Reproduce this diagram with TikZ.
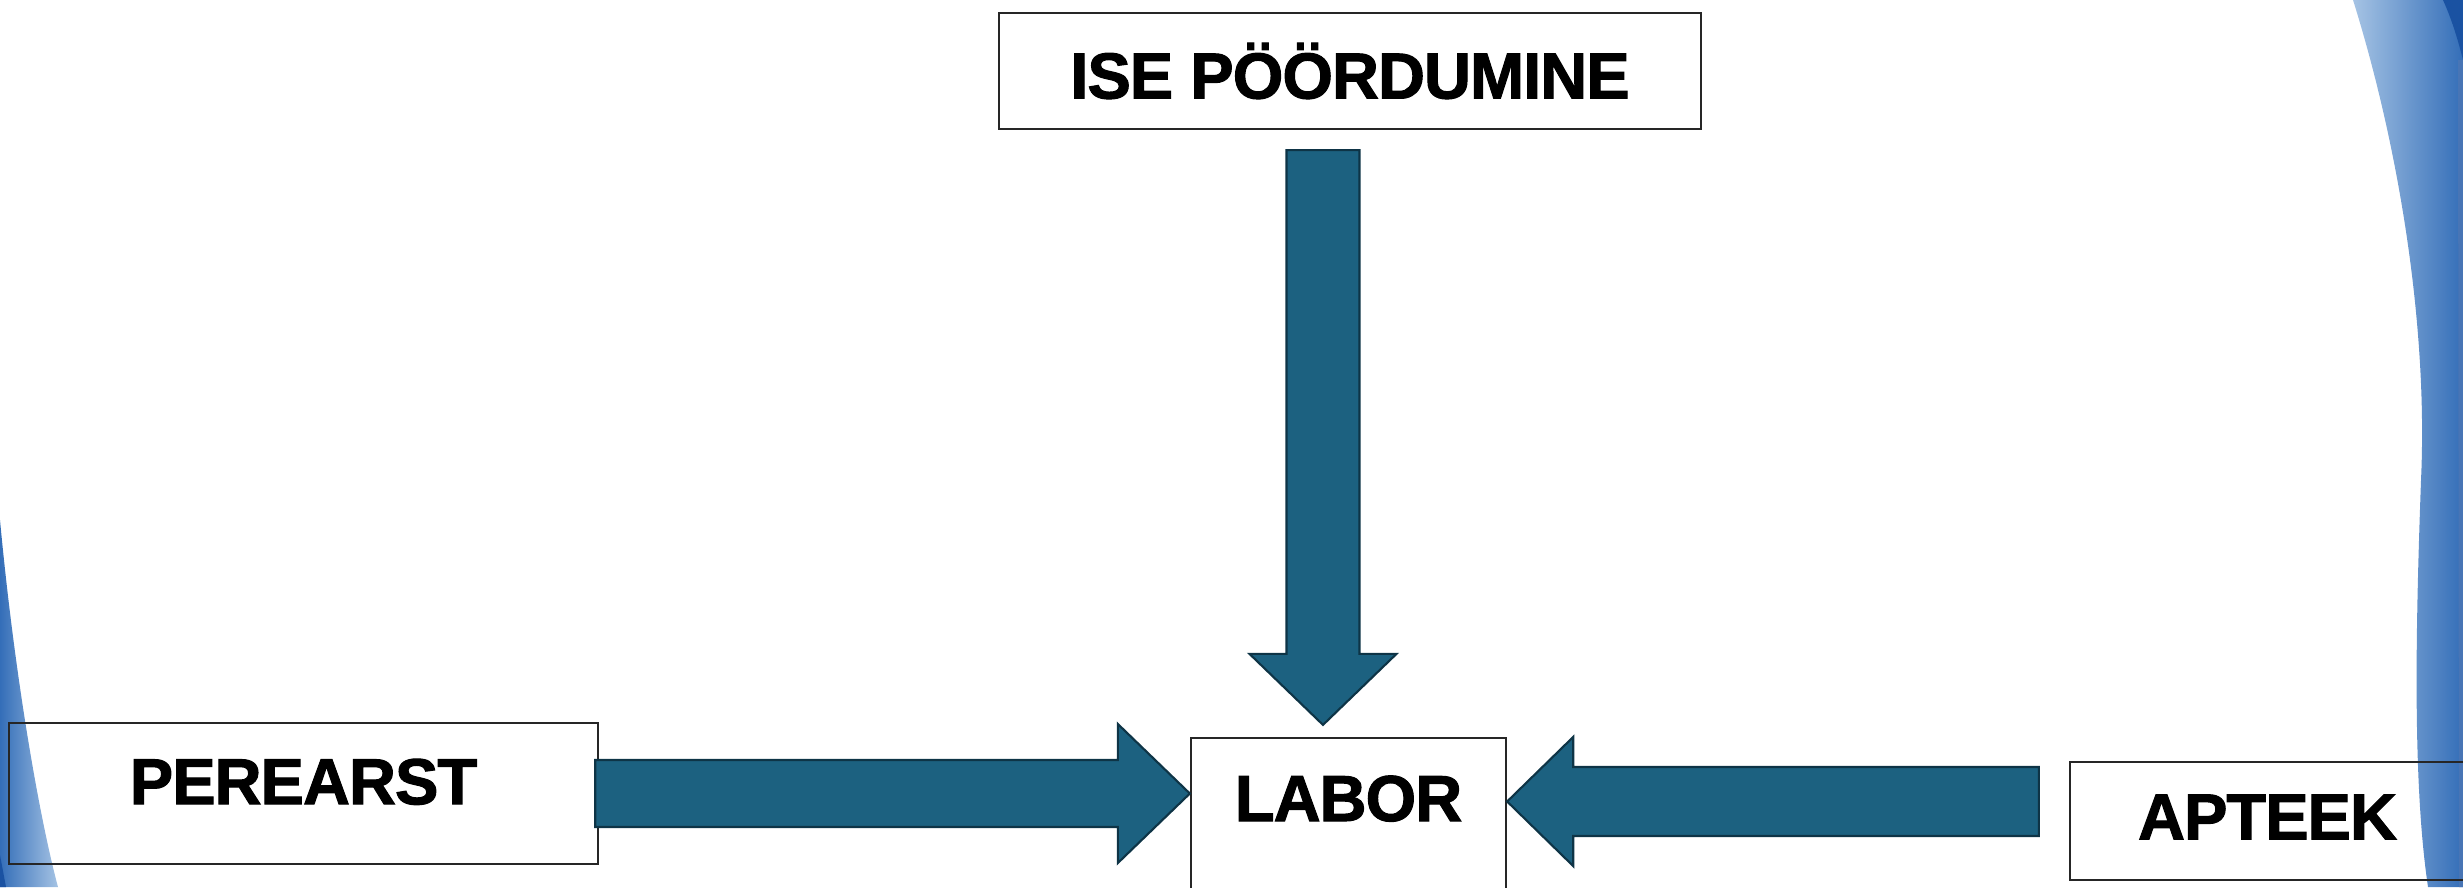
\documentclass[tikz,border=0pt]{standalone}
\usepackage{fontspec}
\setmainfont{Liberation Sans}
\newfontfamily\boxfont{Liberation Sans Bold}[FakeBold=1.6, LetterSpace=-1.5]
\usetikzlibrary{calc}

\definecolor{arrowblue}{RGB}{28,97,128}
\definecolor{arrowedge}{RGB}{14,52,70}
\definecolor{wisplight}{RGB}{165,195,228}
\definecolor{wispdark}{RGB}{52,110,184}
\definecolor{wispdeep}{RGB}{26,82,162}

\tikzset{
  box/.style={draw=black!85, line width=0.6pt, inner sep=0pt,
    font=\boxfont\fontsize{18.5}{22}\selectfont},
  fatarrow/.style={fill=arrowblue, draw=arrowedge, line width=0.6pt, line join=miter}
}

% block arrow: start, tip, half shaft, half head, head length
\newcommand\blockarrow[5]{
  \coordinate (hb) at ($(#2)!#5!(#1)$);
  \draw[fatarrow] ($(#1)!#3!90:(#2)$) -- ($(hb)!#3!90:(#2)$) -- ($(hb)!#4!90:(#2)$) -- (#2)
    -- ($(hb)!#4!-90:(#2)$) -- ($(hb)!#3!-90:(#2)$) -- ($(#1)!#3!-90:(#2)$) -- cycle;
}

\begin{document}
\begin{tikzpicture}[x=0.01cm,y=-0.01cm]
\useasboundingbox (0,0) rectangle (2463,887);
\clip (0,0) rectangle (2463,887);

% swooshes on the edges
\shade[left color=wispdark, right color=wisplight]
  (0,520) .. controls (15,680) and (40,820) .. (58,887) -- (0,887) -- cycle;
\fill[wispdeep] (0,855) -- (6,887) -- (0,887) -- cycle;
\shade[left color=wisplight, right color=wispdark]
  (2353,0) .. controls (2400,150) and (2428,330) .. (2421,480)
  .. controls (2416,620) and (2412,780) .. (2428,887) -- (2463,887) -- (2463,0) -- cycle;
\fill[wispdeep] (2443,0) .. controls (2452,20) and (2458,40) .. (2463,60) -- (2463,0) -- cycle;
\fill[wispdeep!80] (2458,60) -- (2463,60) -- (2463,887) -- (2459,887) -- cycle;

% the boxes
\node[box, minimum width=7.02cm, minimum height=1.16cm] (ise) at (1350,71) {ISE PÖÖRDUMINE};
\node[box, minimum width=5.89cm, minimum height=1.41cm, text depth=0.24cm] (perearst) at (303.5,793.5) {PEREARST};
\node[box, minimum width=3.15cm, text height=0.83cm, text depth=1.4cm] (labor) at (1348.5,849.5) {LABOR};
\node[box, minimum width=3.95cm, minimum height=1.18cm, text depth=0.08cm] (apteek) at (2267.5,821) {APTEEK};

% arrows into the lab
\coordinate (iseOut) at ([xshift=-0.27cm,yshift=-0.2cm]ise.south);
\coordinate (laborTop) at ([xshift=-0.255cm,yshift=0.12cm]labor.north);
\blockarrow{iseOut}{laborTop}{0.365cm}{0.735cm}{0.71cm}

\coordinate (pereOut) at ([xshift=-0.04cm]perearst.east);
\coordinate (laborLeft) at (labor.west |- pereOut);
\blockarrow{pereOut}{laborLeft}{0.335cm}{0.695cm}{0.72cm}

\coordinate (aptOut) at ([xshift=-0.3cm,yshift=0.195cm]apteek.west);
\coordinate (laborRight) at (labor.east |- aptOut);
\blockarrow{aptOut}{laborRight}{0.345cm}{0.645cm}{0.66cm}

\end{tikzpicture}
\end{document}
